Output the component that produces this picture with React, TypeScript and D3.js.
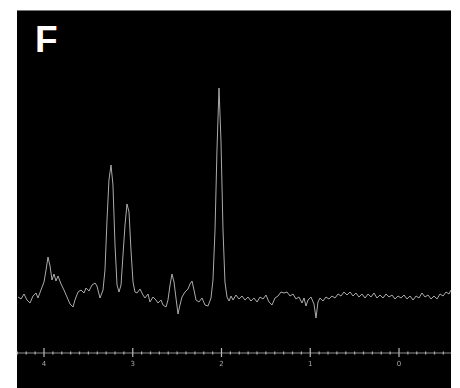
import React from 'react'
import * as d3 from 'd3'

// chemical shift (ppm) and signal intensity (arbitrary units)
const ppm = [
  4.293, 4.259, 4.225, 4.192, 4.158, 4.124, 4.09, 4.068, 4.034, 4.0, 3.977, 3.955, 3.932, 3.91, 3.887,
  3.865, 3.842, 3.808, 3.775, 3.741, 3.707, 3.673, 3.651, 3.617, 3.583, 3.549, 3.527, 3.493, 3.459,
  3.425, 3.403, 3.369, 3.335, 3.313, 3.29, 3.268, 3.245, 3.223, 3.2, 3.177, 3.155, 3.132, 3.11, 3.087,
  3.065, 3.042, 3.02, 2.997, 2.975, 2.952, 2.918, 2.885, 2.862, 2.828, 2.806, 2.772, 2.738, 2.715,
  2.682, 2.659, 2.625, 2.603, 2.58, 2.558, 2.535, 2.513, 2.49, 2.468, 2.445, 2.411, 2.377, 2.355,
  2.332, 2.31, 2.287, 2.254, 2.22, 2.186, 2.152, 2.118, 2.096, 2.073, 2.051, 2.028, 2.006, 1.983,
  1.961, 1.938, 1.915, 1.893, 1.87, 1.837, 1.803, 1.769, 1.735, 1.701, 1.668, 1.634, 1.6, 1.566,
  1.532, 1.499, 1.465, 1.431, 1.397, 1.363, 1.33, 1.296, 1.262, 1.228, 1.194, 1.161, 1.127, 1.093,
  1.07, 1.048, 1.025, 0.992, 0.958, 0.935, 0.913, 0.89, 0.856, 0.823, 0.789, 0.755, 0.721, 0.687,
  0.654, 0.62, 0.586, 0.552, 0.518, 0.485, 0.451, 0.417, 0.383, 0.349, 0.315, 0.282, 0.248, 0.214,
  0.18, 0.146, 0.113, 0.079, 0.045, 0.011, -0.023, -0.056, -0.09, -0.124, -0.158, -0.192, -0.225,
  -0.259, -0.293, -0.327, -0.361, -0.394, -0.428, -0.462, -0.496, -0.53, -0.563, -0.586,
]
const intensity = [
  0, -2, 3, -3, -6, 1, 4, -1, 7, 15, 27, 40, 31, 17, 23,
  16, 21, 13, 7, 0, -7, -10, -3, 5, 7, 4, 9, 6, 12,
  14, 11, -1, 7, 27, 77, 117, 132, 112, 52, 12, 5, 12, 42, 72,
  93, 85, 47, 15, 5, 4, 8, 2, -1, 3, -5, 0, -3, -6,
  -3, -8, -10, -3, 12, 23, 15, -1, -17, -8, 0, 5, 8, 13,
  16, 7, -3, -5, -1, -8, -9, -1, 17, 67, 147, 209, 157, 67,
  15, 0, -4, 1, -3, 2, -2, 1, -3, 0, -4, -1, -5, 0,
  -2, 2, -5, -8, -1, 1, 5, 4, 5, 1, 3, -2, 0, -6,
  -1, -9, -3, 0, -7, -21, -5, -1, -4, 0, -2, 1, -1, 3,
  1, 5, 2, 5, 1, 4, 0, 3, -1, 3, 0, 4, -1, 2,
  -1, 3, 0, 2, -2, 1, -1, 2, -2, 1, -3, 1, -1,
  4, 0, 2, -2, 1, -2, 3, 1, 5, 3, 7,
]
const majorTicks = [4, 3, 2, 1, 0]
const panelLabel = 'F'

const W = 460
const H = 388
const panel = { left: 17, top: 10, right: 451, bottom: 388 }
const axisY = 353

export default function App() {
  const x = d3.scaleLinear().domain([4, 0]).range([44, 399])
  const y = d3.scaleLinear().domain([-20, 210]).range([317, 87])

  const pts: [number, number][] = ppm.map((p, i) => [p, intensity[i]])
  const line = d3
    .line<[number, number]>()
    .x((d) => x(d[0]))
    .y((d) => y(d[1]))

  const minor = d3.range(-5, 44).map((v) => v / 10).filter((v) => Math.abs(v - Math.round(v)) > 1e-6)

  return (
    <svg
      width={W}
      height={H}
      style={{ position: 'absolute', left: 0, top: 0, display: 'block', background: '#fff' }}
    >
      <defs>
        <filter id="soft" x="-5%" y="-5%" width="110%" height="110%">
          <feGaussianBlur stdDeviation="0.35" />
        </filter>
      </defs>
      <rect
        x={panel.left}
        y={panel.top}
        width={panel.right - panel.left}
        height={panel.bottom - panel.top}
        fill="#000"
      />
      <line x1={panel.left} x2={panel.right} y1={panel.top + 0.5} y2={panel.top + 0.5} stroke="#777" />
      <text
        x={35}
        y={52}
        fill="#fff"
        fontFamily="Liberation Sans, Arial, sans-serif"
        fontWeight="bold"
        fontSize={37}
      >
        {panelLabel}
      </text>

      <path d={line(pts) ?? ''} fill="none" stroke="#ababab" strokeWidth={1} filter="url(#soft)" />

      <g filter="url(#soft)">
        <line x1={panel.left} x2={panel.right} y1={axisY} y2={axisY} stroke="#8c8c8c" strokeWidth={1.1} />
        {minor.map((v) => (
          <line key={v} x1={x(v)} x2={x(v)} y1={axisY - 1.5} y2={axisY + 1.5} stroke="#aaa" strokeWidth={1.3} />
        ))}
        {majorTicks.map((v) => (
          <g key={v}>
            <line x1={x(v)} x2={x(v)} y1={axisY - 5} y2={axisY + 4} stroke="#bbb" strokeWidth={1.2} />
            <text
              x={x(v)}
              y={axisY + 13}
              textAnchor="middle"
              fill="#a8a8a8"
              fontFamily="DejaVu Sans, sans-serif"
              fontSize={7}
            >
              {v}
            </text>
          </g>
        ))}
      </g>
    </svg>
  )
}
